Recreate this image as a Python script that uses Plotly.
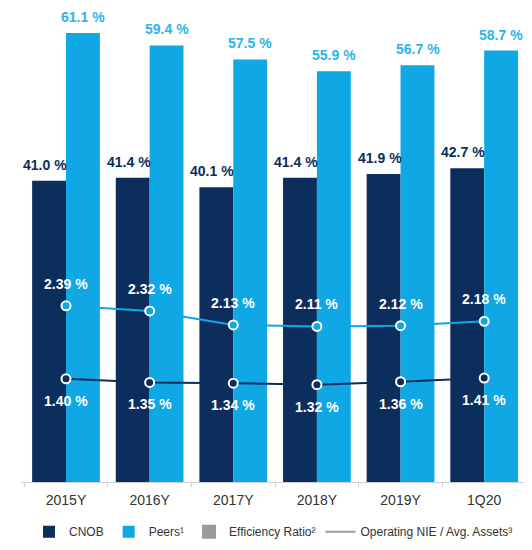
import plotly.graph_objects as go

categories = ["2015Y", "2016Y", "2017Y", "2018Y", "2019Y", "1Q20"]
cnob_eff = [41.0, 41.4, 40.1, 41.4, 41.9, 42.7]
peers_eff = [61.1, 59.4, 57.5, 55.9, 56.7, 58.7]
peers_nie = [2.39, 2.32, 2.13, 2.11, 2.12, 2.18]
cnob_nie = [1.40, 1.35, 1.34, 1.32, 1.36, 1.41]

NAVY = "#0c2e5c"
LIGHT = "#0fa7e4"
LIGHT_TXT = "#2eb3ea"
GRAY = "#9a9a9a"
FONT = "Arial, Liberation Sans, sans-serif"

fig = go.Figure()

fig.add_trace(go.Bar(
    x=categories, y=cnob_eff, name="CNOB", marker=dict(color=NAVY, line=dict(width=0)),
    showlegend=True,
))
fig.add_trace(go.Bar(
    x=categories, y=peers_eff, name="Peers¹", marker=dict(color=LIGHT, line=dict(width=0)),
    showlegend=True,
))
# legend-only entries
fig.add_trace(go.Scatter(x=[None], y=[None], name="Efficiency Ratio²", mode="markers",
                         marker=dict(symbol="square", size=14, color=GRAY), showlegend=True))
fig.add_trace(go.Scatter(x=[None], y=[None], name="Operating NIE / Avg. Assets³", mode="lines",
                         line=dict(color=GRAY, width=2), showlegend=True, yaxis="y2"))

fig.add_trace(go.Scatter(
    x=categories, y=peers_nie, mode="lines+markers", yaxis="y2", showlegend=False,
    line=dict(color=LIGHT, width=2),
    marker=dict(size=9, color=LIGHT, line=dict(color="white", width=2)),
    cliponaxis=False,
))
fig.add_trace(go.Scatter(
    x=categories, y=cnob_nie, mode="lines+markers", yaxis="y2", showlegend=False,
    line=dict(color=NAVY, width=2),
    marker=dict(size=9, color=NAVY, line=dict(color="white", width=2)),
    cliponaxis=False,
))

# bar value labels
for c, v in zip(categories, cnob_eff):
    fig.add_annotation(x=c, y=v, yref="y", text=f"<b>{v:.1f} %</b>", showarrow=False,
                       xshift=-21, yanchor="bottom", yshift=6,
                       font=dict(color=NAVY, size=14, family=FONT))
for c, v in zip(categories, peers_eff):
    fig.add_annotation(x=c, y=v, yref="y", text=f"<b>{v:.1f} %</b>", showarrow=False,
                       xshift=17, yanchor="bottom", yshift=6,
                       font=dict(color=LIGHT_TXT, size=14, family=FONT))

# line value labels
for c, v in zip(categories, peers_nie):
    fig.add_annotation(x=c, y=v, yref="y2", text=f"<b>{v:.2f} %</b>", showarrow=False, yshift=22,
                       font=dict(color="white", size=14, family=FONT))
for c, v in zip(categories, cnob_nie):
    fig.add_annotation(x=c, y=v, yref="y2", text=f"<b>{v:.2f} %</b>", showarrow=False, yshift=-22,
                       font=dict(color="white", size=14, family=FONT))

fig.update_layout(
    width=524, height=542,
    margin=dict(l=13, r=6, t=0, b=68, autoexpand=False),
    paper_bgcolor="white", plot_bgcolor="white",
    barmode="group", bargap=0.19, bargroupgap=0,
    font=dict(family=FONT, size=12, color="#333333"),
    xaxis=dict(type="category", showline=True, linecolor="#cfcfcf", linewidth=1,
               ticks="outside", tickson="boundaries", ticklen=4, tickcolor="#cfcfcf",
               ticklabelstandoff=5,
               tickfont=dict(size=14, color="#333333", family=FONT), showgrid=False),
    yaxis=dict(range=[0, 64.5], visible=False, showgrid=False, zeroline=False),
    yaxis2=dict(range=[0, 6.43], overlaying="y", side="right", visible=False,
                showgrid=False, zeroline=False),
    legend=dict(orientation="h", x=0.5, xanchor="center", y=-0.105, yanchor="middle",
                font=dict(size=12, color="#333333", family=FONT),
                itemwidth=30, traceorder="normal", tracegroupgap=0),
    showlegend=True,
)

fig.write_html("out.html")
